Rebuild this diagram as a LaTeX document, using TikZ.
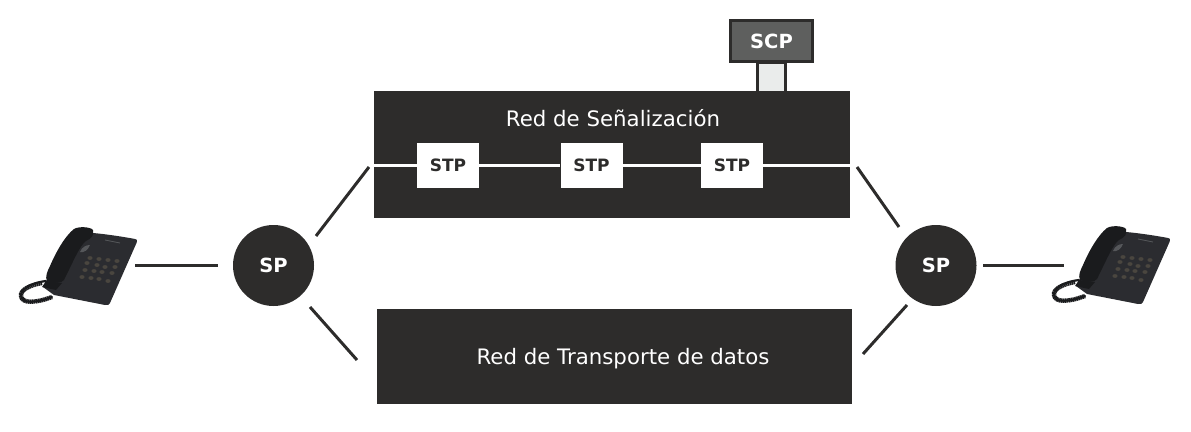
\documentclass[tikz,border=0pt]{standalone}
\usepackage{fontspec}
\setmainfont{DejaVu Sans}
\definecolor{ink}{HTML}{2D2C2B}
\definecolor{scpfill}{HTML}{5E5F5E}
\definecolor{stem}{HTML}{EAECEB}
\definecolor{phonebody}{HTML}{2B2C30}
\definecolor{phonedark}{HTML}{1A1B1D}
\definecolor{phonekey}{HTML}{4A463F}
\definecolor{phonepatch}{HTML}{55575A}
\tikzset{
  x=1pt,y=-1pt,
  link/.style={draw=ink,line width=3pt},
  net/.style={rectangle,fill=ink,inner sep=0pt,outer sep=0pt},
  netlabel/.style={text=white,font=\fontsize{21.3}{25}\selectfont,inner sep=0pt},
  spnode/.style={circle,fill=ink,text=white,minimum size=81pt,inner sep=0pt,font=\fontsize{19.5}{22}\selectfont\bfseries},
  stpbox/.style={rectangle,fill=white,text=ink,minimum width=62pt,minimum height=45pt,inner sep=0pt,font=\fontsize{17}{20}\selectfont\bfseries},
  scpbox/.style={rectangle,draw=ink,line width=3pt,fill=scpfill,text=white,minimum width=82pt,minimum height=41pt,inner sep=0pt,font=\fontsize{19.5}{22}\selectfont\bfseries},
  stembox/.style={rectangle,draw=ink,line width=3pt,fill=stem,minimum width=28pt,minimum height=30pt,inner sep=0pt},
  phone/.pic={
    % cord
    \draw[phonedark,line width=2.2pt,line cap=round]
      (46,281) .. controls (30,283) and (20,290) .. (21,296)
      .. controls (22,304) and (36,303) .. (52,297);
    \draw[phonedark,line width=4.4pt,dash pattern=on 1.5pt off 0.5pt]
      (42,283) .. controls (30,285) and (20,290) .. (21,296)
      .. controls (22,304) and (36,303) .. (52,297);
    % base
    \fill[phonebody] (93,233) .. controls (105,234) and (125,237) .. (135,239)
      .. controls (137,239) and (137.5,240) .. (136.5,243)
      -- (110,303) .. controls (109,305) and (108,305) .. (105,305)
      -- (54,295) -- (43,287) -- (50,275) -- cycle;
    % cradle highlight
    \fill[phonepatch] (80,252) .. controls (82,247) and (86,245) .. (90,245)
      .. controls (88,250) and (84,253) .. (80,252) -- cycle;
    % handset
    \fill[phonedark] (93,230) .. controls (94,236) and (92,238) .. (86,241)
      .. controls (80,245) and (73,262) .. (64,280)
      .. controls (61,284) and (54,283) .. (47,281)
      .. controls (45,277) and (47,272) .. (50,266)
      .. controls (56,252) and (65,236) .. (74,229)
      .. controls (79,226) and (91,227) .. (93,230) -- cycle;
    \fill[phonedark] (46,281) -- (62,283) -- (56,290) -- (42,287) -- cycle;
    % brand mark
    \draw[phonepatch,line width=0.8pt] (105,240) -- (120,243);
    % keys
    \foreach \kx/\ky in {90/258,99/259,108/260,117/261,
                         87/263,97/265,105/267,115/267,
                         85/270,94/271,102/272,112/273,
                         82/277,91/278,99/279,108/281}
      \fill[phonekey] (\kx,\ky) ellipse (2.6 and 1.9);
  }
}
\begin{document}
\begin{tikzpicture}
\useasboundingbox (0,0) rectangle (1191,431);

% phones
\pic at (0,0) {phone};
\pic at (1033,-1) {phone};

% networks
\node[net,minimum width=476pt,minimum height=127pt] (sig) at (612,154.5) {};
\node[net,minimum width=475pt,minimum height=95pt] (data) at (614.5,356.5) {};
\node[netlabel] (sigtext) at (613,118.5) {Red de Señalización};
\node[netlabel] (datatext) at (623,359) {Red de Transporte de datos};

% SCP
\node[stembox] (stem) at (771.5,77) {};
\node[scpbox] (scp) at (771.5,41) {SCP};

% signalling bus
\node[stpbox] (stp1) at (448,165.5) {STP};
\node[stpbox] (stp2) at (591.5,165.5) {STP};
\node[stpbox] (stp3) at (732,165.5) {STP};
\coordinate (busL) at (373,165.5);
\coordinate (busR) at (851,165.5);
\draw[white,line width=3pt] (busL) -- (stp1) (stp1) -- (stp2) (stp2) -- (stp3) (stp3) -- (busR);

% signalling points
\node[spnode] (sp1) at (273.5,265.5) {SP};
\node[spnode] (sp2) at (936,265.5) {SP};

% free ends of the connectors
\coordinate (phL) at (135,265);
\coordinate (phR) at (1064,265);
\coordinate (sigL) at (369,167);
\coordinate (sigR) at (857,167);
\coordinate (dataL) at (357,360);
\coordinate (dataR) at (863,354);
\coordinate (sp1w) at (218,265);
\coordinate (sp2e) at (983,265);
\coordinate (sp1ne) at (316,236);
\coordinate (sp1se) at (310,307);
\coordinate (sp2nw) at (899,227);
\coordinate (sp2sw) at (907,305);

\draw[link] (phL) -- (sp1w);
\draw[link] (sp1ne) -- (sigL);
\draw[link] (sp1se) -- (dataL);
\draw[link] (sp2nw) -- (sigR);
\draw[link] (sp2sw) -- (dataR);
\draw[link] (sp2e) -- (phR);
\end{tikzpicture}
\end{document}
